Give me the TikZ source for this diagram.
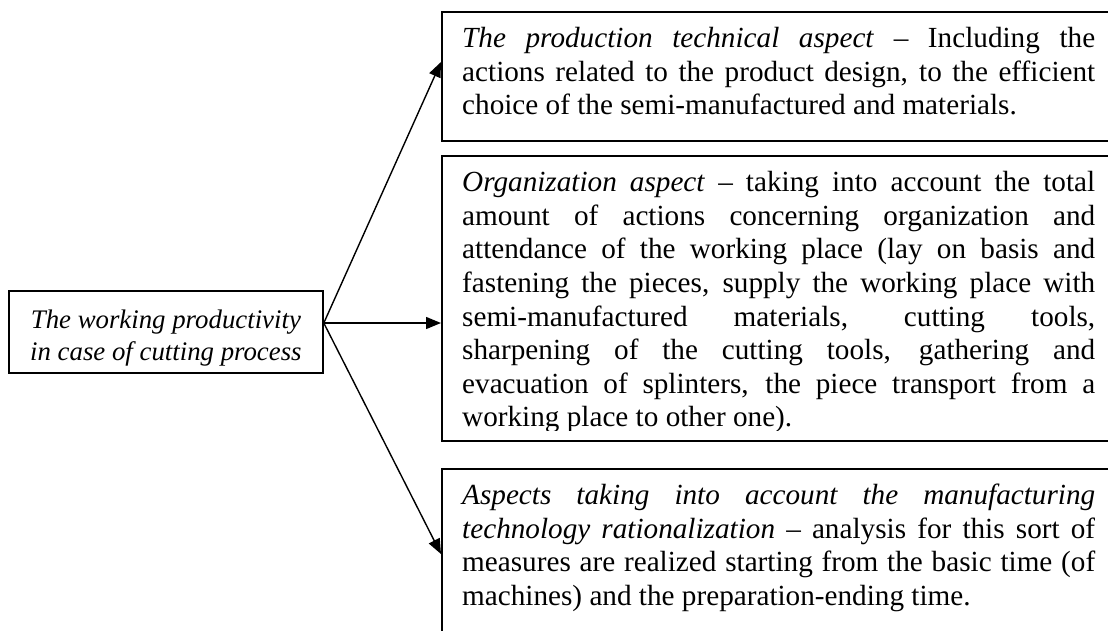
\documentclass[tikz,border=0pt]{standalone}
\usepackage{fontspec}
\setmainfont{Liberation Serif}
\usetikzlibrary{arrows.meta,calc}
\hyphenpenalty=10000
\exhyphenpenalty=10000
\tolerance=10000
\hbadness=10000
\begin{document}
\begin{tikzpicture}[x=1pt,y=-1pt,
  box/.style={draw=black, line width=1.8pt, rectangle, inner sep=0pt},
  rtext/.style={anchor=north west, inner sep=0pt, text width=633pt, align=justify,
    font=\fontsize{29.2}{33.6}\selectfont},
  ltext/.style={align=center, inner sep=0pt, font=\fontsize{26.8}{32}\selectfont\itshape},
  conn/.style={line width=1.4pt, -{Triangle[length=15pt,width=12pt]}}]
\useasboundingbox (0,0) rectangle (1108,630);
\clip (0,0) rectangle (1108,630);
% left box
\node[box, minimum width=314pt, minimum height=82pt, anchor=north west] (src) at (8,290) {};
\node[ltext] (srct) at ($(src.center)+(0,6)$) {The working productivity\\in case of cutting process};
% right boxes
\node[box, minimum width=690pt, minimum height=129pt, anchor=north west] (b1) at (441,11) {};
\node[box, minimum width=690pt, minimum height=285pt, anchor=north west] (b2) at (441,155) {};
\node[box, minimum width=690pt, minimum height=200pt, anchor=north west] (b3) at (441,468) {};
% texts
\node[rtext] (t1) at ($(b1.north west)+(21,13)$)
  {\strut\textit{The production technical aspect} \textendash{} Including the\linebreak
   actions related to the product design, to the efficient\linebreak
   choice of the semi-manufactured and materials.};
\begin{scope}
\clip (441,155) rectangle (1108,430);
\node[rtext] (t2) at ($(b2.north west)+(21,13)$)
  {\strut\textit{Organization aspect} \textendash{} taking into account the total\linebreak
   amount of actions concerning organization and\linebreak
   attendance of the working place (lay on basis and\linebreak
   fastening the pieces, supply the working place with\linebreak
   semi-manufactured materials, cutting tools,\linebreak
   sharpening of the cutting tools, gathering and\linebreak
   evacuation of splinters, the piece transport from a\linebreak
   working place to other one).};
\end{scope}
\node[rtext] (t3) at ($(b3.north west)+(21,13)$)
  {\strut\textit{Aspects taking into account the manufacturing\linebreak
   technology rationalization} \textendash{} analysis for this sort of\linebreak
   measures are realized starting from the basic time (of\linebreak
   machines) and the preparation-ending time.};
% connectors
\coordinate (j) at ($(src.north east)+(0,33)$);
\coordinate (p1) at ($(b1.north west)+(0,51)$);
\coordinate (p2) at ($(b2.north west)+(0,168)$);
\coordinate (p3) at ($(b3.north west)+(0,86)$);
\draw[conn] (j) -- (p1);
\draw[conn] (j) -- (p2);
\draw[conn] (j) -- (p3);
\end{tikzpicture}
\end{document}
